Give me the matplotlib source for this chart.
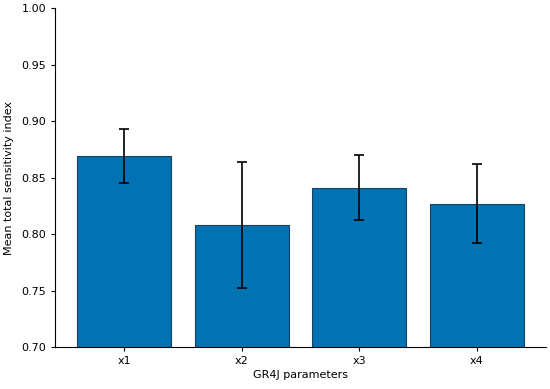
import matplotlib.pyplot as plt

# Sensitivity data
params = ["x1", "x2", "x3", "x4"]
mean_st = [0.869, 0.808, 0.841, 0.827]
err_st = [0.024, 0.056, 0.029, 0.035]

fig = plt.figure(figsize=(5.5, 3.89), dpi=100)
ax = fig.add_axes([0.1, 0.108, 0.893, 0.871])

ax.bar(params, mean_st, width=0.8, color="#0173b2", edgecolor="#1d3f5e",
       linewidth=0.8, yerr=err_st, capsize=3.3,
       error_kw={"elinewidth": 1.2, "capthick": 1.2, "ecolor": "black"})

ax.set_ylim(0.70, 1.00)
ax.set_yticks([0.70, 0.75, 0.80, 0.85, 0.90, 0.95, 1.00])
ax.set_ylabel("Mean total sensitivity index", fontsize=8, labelpad=5)
ax.set_xlabel("GR4J parameters", fontsize=8, labelpad=3)
ax.tick_params(labelsize=8, length=3)
ax.spines["top"].set_visible(False)
ax.spines["right"].set_visible(False)

plt.savefig("out.png")
plt.close()
